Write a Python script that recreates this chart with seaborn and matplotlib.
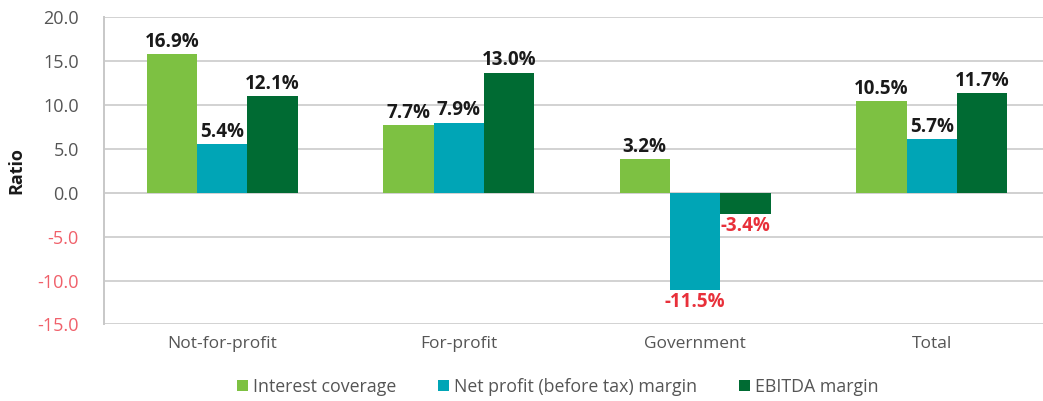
import matplotlib
matplotlib.use("Agg")
import matplotlib.pyplot as plt
import pandas as pd
import seaborn as sns

# values (bar heights) and the printed labels
categories = ['Not-for-profit', 'For-profit', 'Government', 'Total']
series = ['Interest coverage', 'Net profit (before tax) margin', 'EBITDA margin']
interest_coverage = [15.8, 7.7, 3.8, 10.4]
net_profit_margin = [5.5, 8.0, -11.1, 6.1]
ebitda_margin = [11.0, 13.7, -2.4, 11.4]
interest_labels = ['16.9%', '7.7%', '3.2%', '10.5%']
net_profit_labels = ['5.4%', '7.9%', '-11.5%', '5.7%']
ebitda_labels = ['12.1%', '13.0%', '-3.4%', '11.7%']
y_ticks = [-15, -10, -5, 0, 5, 10, 15, 20]

colors = ['#7dc142', '#00a5b6', '#006b33']
neg_red = '#e8303a'
grey_text = '#555555'


def build_data():
    rows = []
    for name, vals in zip(series, [interest_coverage, net_profit_margin, ebitda_margin]):
        for cat, v in zip(categories, vals):
            rows.append({'category': cat, 'series': name, 'value': v})
    return pd.DataFrame(rows)


def show(df):
    sns.set_theme(style="white")
    plt.rcParams['font.family'] = ['Open Sans', 'DejaVu Sans']

    fig = plt.figure(figsize=(10.43, 4.01), dpi=100)
    ax = fig.add_axes([0.0997, 0.191, 0.907, 0.766])

    sns.barplot(data=df, x='category', y='value', hue='series',
                order=categories, hue_order=series, palette=colors,
                width=0.64, saturation=1, errorbar=None, ax=ax,
                linewidth=0, legend=True)

    all_labels = [interest_labels, net_profit_labels, ebitda_labels]
    for cont, labs in zip(ax.containers, all_labels):
        texts = ax.bar_label(cont, labels=labs, padding=1.5,
                             fontsize=13.5, fontweight='bold', color='#1a1a1a')
        for t, lab in zip(texts, labs):
            if lab.startswith('-'):
                t.set_color(neg_red)

    ax.set_ylim(-15, 20)
    ax.set_yticks(y_ticks)
    ax.set_yticklabels([f'{v:.1f}' for v in y_ticks])
    for lbl, v in zip(ax.get_yticklabels(), y_ticks):
        lbl.set_color('#f0606a' if v < 0 else grey_text)
    ax.yaxis.grid(True, color='#d2d2d2', linewidth=1.4)
    ax.set_axisbelow(True)
    ax.axhline(0, color='#bdbdbd', linewidth=1.4, zorder=0.5)

    ax.tick_params(axis='y', length=0, pad=18, labelsize=13)
    ax.tick_params(axis='x', length=0, pad=8, labelsize=12.5, labelcolor=grey_text)

    ax.set_xlabel('')
    ax.set_ylabel('Ratio', fontsize=13, fontweight='bold', color='#1a1a1a')
    ax.yaxis.set_label_coords(-0.0835, 0.5)

    for side in ['top', 'right', 'bottom']:
        ax.spines[side].set_visible(False)
    ax.spines['left'].set_color('#c8c8c8')
    ax.spines['left'].set_linewidth(1.4)

    handles, labels = ax.get_legend_handles_labels()
    ax.legend_.remove()
    fig.legend(handles, labels, loc='center', bbox_to_anchor=(0.535, 0.035),
               ncol=3, frameon=False, fontsize=12.8, handlelength=0.6,
               handleheight=0.6, handletextpad=0.3, columnspacing=2.35,
               labelcolor=grey_text)

    fig.savefig('out.png', dpi=100)


def main():
    df = build_data()
    show(df)


if __name__ == '__main__':
    main()
